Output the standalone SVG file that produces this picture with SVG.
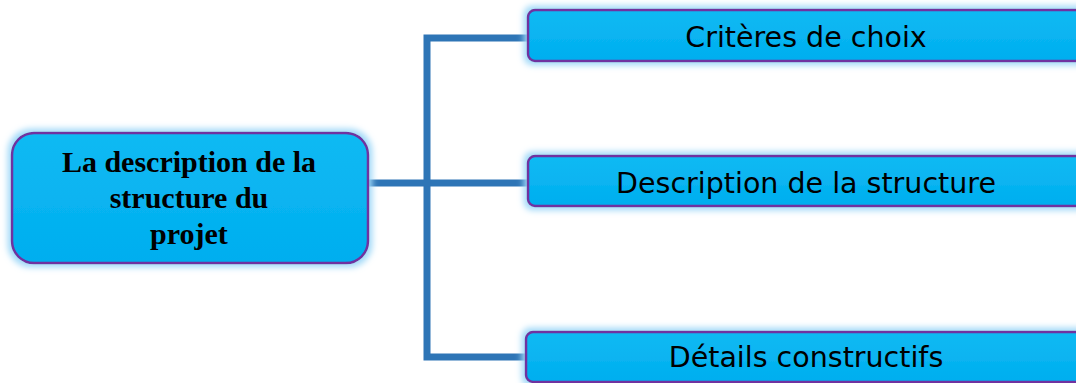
<svg xmlns="http://www.w3.org/2000/svg" width="1076" height="383" viewBox="0 0 1076 383">
<style>
.box{fill:url(#g);stroke:#7030A0;stroke-width:2.5;filter:url(#glow)}
.t{font-family:"DejaVu Sans","Liberation Sans",sans-serif;font-size:28.5px;fill:#000;text-anchor:middle}
.m{font-family:"Liberation Serif","Times New Roman",serif;font-weight:bold;font-size:30px;fill:#000;text-anchor:middle}
.c{fill:none;stroke:#2E75B6;stroke-width:7}
</style>
<defs>
<linearGradient id="g" x1="0" y1="0" x2="0" y2="1">
<stop offset="0" stop-color="#10BAF3"/>
<stop offset="1" stop-color="#00AEEF"/>
</linearGradient>
<filter id="glow" x="-10%" y="-30%" width="120%" height="160%">
<feMorphology in="SourceAlpha" operator="dilate" radius="3" result="d"/>
<feGaussianBlur in="d" stdDeviation="3" result="b"/>
<feFlood flood-color="#9FD8F8"/>
<feComposite in2="b" operator="in" result="gl"/>
<feMerge><feMergeNode in="gl"/><feMergeNode in="SourceGraphic"/></feMerge>
</filter>
</defs>
<rect width="1076" height="383" fill="#fff"/>
<g id="connectors">
<polyline class="c" points="527,38 427,38 427,357 527,357"/>
<line class="c" x1="367" y1="183" x2="527" y2="183"/>
</g>
<g id="main">
<rect class="box" x="12" y="133" width="356" height="130" rx="22"/>
<text class="m" x="189" y="172">La description de la</text>
<text class="m" x="189" y="208">structure du</text>
<text class="m" x="189" y="244">projet</text>
</g>
<g id="n1">
<rect class="box" x="528" y="10" width="560" height="51" rx="7"/>
<text class="t" x="806" y="47">Critères de choix</text>
</g>
<g id="n2">
<rect class="box" x="528" y="156" width="560" height="50" rx="7"/>
<text class="t" x="806" y="193">Description de la structure</text>
</g>
<g id="n3">
<rect class="box" x="526" y="332" width="562" height="50" rx="7"/>
<text class="t" x="806" y="367">Détails constructifs</text>
</g>
</svg>
